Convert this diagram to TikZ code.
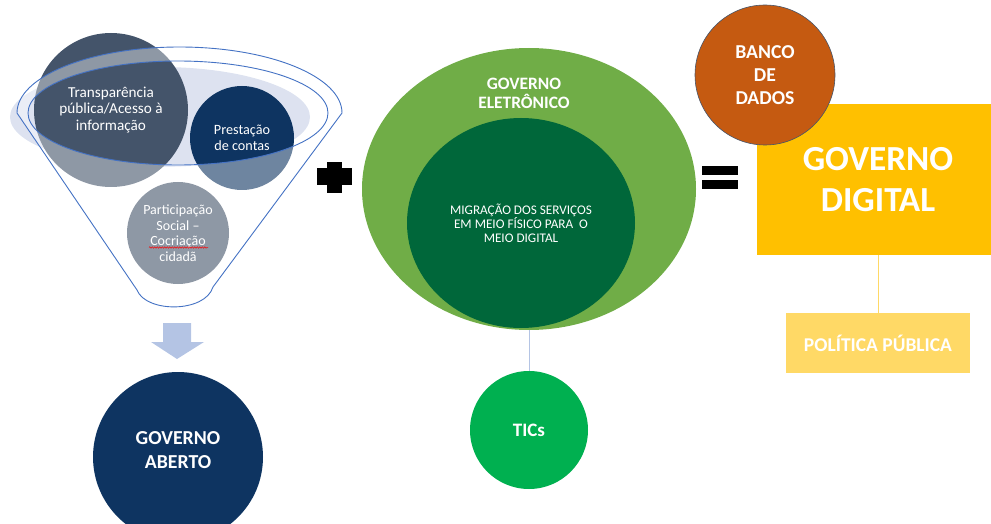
\documentclass[tikz,border=0pt]{standalone}
\usepackage{fontspec}
\setmainfont{Carlito}
\usetikzlibrary{shapes.geometric,decorations.pathmorphing}
\definecolor{slate}{HTML}{44546A}
\definecolor{navy}{HTML}{0E3461}
\definecolor{rimblue}{HTML}{4472C4}
\definecolor{lilac}{HTML}{DDE2F0}
\definecolor{leaf}{HTML}{70AD47}
\definecolor{forest}{HTML}{00673A}
\definecolor{tic}{HTML}{00B050}
\definecolor{rust}{HTML}{C55A11}
\definecolor{gold}{HTML}{FFC000}
\definecolor{sand}{HTML}{FFD966}
\definecolor{mist}{HTML}{B4C4E4}
\tikzset{ball/.style={circle, inner sep=0pt}, oval/.style={ellipse, inner sep=0pt},
  txt/.style={text=white, align=center, inner sep=0pt}}

\begin{document}
\begin{tikzpicture}[x=1pt, y=-1pt]
  \useasboundingbox (0,0) rectangle (991,524);

  \fill[lilac] (160,117) ellipse [x radius=150, y radius=50];
  \node[ball, fill=slate, minimum size=154pt] (transp) at (111,110) {};
  \node[ball, fill=navy,  minimum size=104pt] (prest)  at (242,138) {};
  \node[ball, fill=slate, minimum size=102pt] (partic) at (178,233) {};
  \fill[white, opacity=0.4, even odd rule]
    (17,113) arc [start angle=180, end angle=360, x radius=162.5, y radius=66]
    -- (213,287) .. controls (205,313) and (146,313) .. (137,290) -- cycle
    (178,113) ellipse [x radius=150, y radius=52];
  \draw[rimblue, line width=0.9pt]
    (17,113) arc [start angle=180, end angle=360, x radius=162.5, y radius=66]
    -- (213,287) .. controls (205,313) and (146,313) .. (137,290) -- cycle
    (178,113) ellipse [x radius=150, y radius=52];
  \node[txt, font=\fontsize{15.2}{16.7}\selectfont] (transptxt) at (transp) {Transparência\\pública/Acesso à\\informação};
  \node[txt, font=\fontsize{14.2}{16}\selectfont] (presttxt) at (prest) {Prestação\\de contas};
  \node[txt, font=\fontsize{14}{15.5}\selectfont] (partictxt) at (partic) {Participação\\Social –\\Cocriação\\cidadã};
  \draw[red, line width=0.5pt, decorate, decoration={snake, amplitude=0.7pt, segment length=2.5pt}] (149,247.5) -- (208,247.5);

  \fill (327,162) rectangle (342,193);
  \fill (317,168) rectangle (352,185);

  \fill[mist] (163,323) -- (191,323) -- (191,342) -- (204,342) -- (177,359) -- (151,342) -- (163,342) -- cycle;
  \node[ball, fill=navy, minimum size=170pt] (aberto) at (178,457) {};
  \node[txt, font=\fontsize{19.8}{23.5}\selectfont\bfseries] (abertotxt) at (178,450) {GOVERNO\\ABERTO};

  \node[oval, fill=leaf, minimum width=334pt, minimum height=282pt] (eletr) at (529,189) {};
  \node[txt, font=\fontsize{17.4}{18.5}\selectfont\bfseries] (eletrtxt) at (524,93.5) {GOVERNO\\ELETRÔNICO};
  \node[oval, fill=forest, minimum width=228pt, minimum height=210pt, txt, font=\fontsize{13.2}{14}\selectfont] (migr) at (521,223) {MIGRAÇÃO DOS SERVIÇOS\\EM MEIO FÍSICO PARA\ \ O\\MEIO DIGITAL};
  \node[ball, fill=tic, minimum size=118pt, txt, font=\fontsize{19}{23}\selectfont\bfseries] (tics) at (529,430) {TICs};
  \draw[mist, line width=1pt] (eletr) -- (tics);

  \fill (702,166) rectangle (738,175);
  \fill (702,180) rectangle (738,189);

  \node[fill=gold, minimum width=242pt, minimum height=151pt, txt, font=\fontsize{35.2}{41.5}\selectfont\bfseries] (digital) at (878,179.5) {GOVERNO\\DIGITAL};
  \node[fill=sand, minimum width=184pt, minimum height=60pt, txt, font=\fontsize{19.5}{22}\selectfont\bfseries] (pol) at (878,343) {POLÍTICA PÚBLICA};
  \draw[sand, line width=1pt] (digital) -- (pol);
  \node[ball, fill=rust, draw=slate, line width=0.6pt, minimum size=140pt, txt, font=\fontsize{19.7}{23}\selectfont\bfseries] (banco) at (765,75) {BANCO\\DE\\DADOS};
\end{tikzpicture}
\end{document}
